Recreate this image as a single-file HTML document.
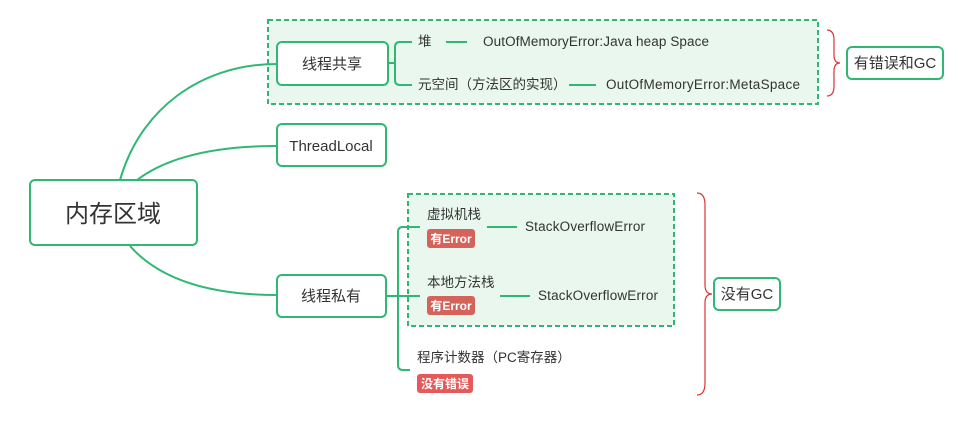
<!DOCTYPE html>
<html><head><meta charset="utf-8"><style>
body{margin:0;background:#fff;}
text{font-family:"Liberation Sans","Noto Sans CJK SC",sans-serif;fill:#333;}
</style></head><body>
<svg width="972" height="425" viewBox="0 0 972 425" xmlns="http://www.w3.org/2000/svg">
<g fill="none" stroke="#2fb874" stroke-width="2">
<rect x="268" y="20" width="550" height="84" fill="#e9f7ef" stroke-dasharray="5,3"/>
<rect x="408" y="194" width="266" height="132" fill="#e9f7ef" stroke-dasharray="5,3"/>
<path d="M120,180 C140,110 200,64 277,64"/>
<path d="M137,180 C170,155 220,146 277,146"/>
<path d="M130,246 C160,280 210,295 277,295"/>
<path d="M388,63 H395 M412,42 H400 Q395,42 395,47 V80 Q395,85 400,85 H412"/>
<path d="M446,42 H467 M569,85 H596"/>
<path d="M386,296 H420 M420,227 H403 Q398,227 398,232 V365 Q398,370 403,370 H410"/>
<path d="M487,227 H517 M500,296 H530"/>
</g>
<g fill="#fff" stroke="#2fb874" stroke-width="2">
<rect x="30" y="180" width="167" height="65" rx="5"/>
<rect x="277" y="42" width="111" height="43" rx="5"/>
<rect x="277" y="124" width="109" height="42" rx="5"/>
<rect x="277" y="275" width="109" height="42" rx="5"/>
<rect x="847" y="47" width="96" height="32" rx="5"/>
<rect x="714" y="278" width="66" height="32" rx="5"/>
</g>
<g fill="none" stroke="#d33" stroke-width="1.2">
<path d="M827,30 Q834,30 834,40 V55 Q834,63 840,63 Q834,63 834,71 V86 Q834,96 827,96"/>
<path d="M697,193 Q705,193 705,205 V285 Q705,294 712,294 Q705,294 705,303 V383 Q705,395 697,395"/>
</g>
<text x="113" y="222" font-size="24" text-anchor="middle">内存区域</text>
<text x="332" y="69" font-size="15" text-anchor="middle">线程共享</text>
<text x="331" y="151" font-size="15" text-anchor="middle">ThreadLocal</text>
<text x="331" y="301" font-size="15" text-anchor="middle">线程私有</text>
<text x="895" y="68" font-size="15" text-anchor="middle">有错误和GC</text>
<text x="747" y="299" font-size="15" text-anchor="middle">没有GC</text>
<g font-size="13.5">
<text x="418" y="46">堆</text>
<text x="483" y="46" textLength="226">OutOfMemoryError:Java heap Space</text>
<text x="418" y="89">元空间（方法区的实现）</text>
<text x="606" y="89" textLength="194">OutOfMemoryError:MetaSpace</text>
<text x="427" y="219">虚拟机栈</text>
<text x="525" y="231" textLength="120">StackOverflowError</text>
<text x="427" y="287">本地方法栈</text>
<text x="538" y="300" textLength="120">StackOverflowError</text>
<text x="417" y="362">程序计数器（PC寄存器）</text>
</g>
<rect x="427" y="229" width="48" height="19" rx="3" fill="#d4635c"/>
<rect x="427" y="296" width="48" height="19" rx="3" fill="#d4635c"/>
<rect x="417" y="374" width="56" height="19" rx="3" fill="#e45a5a"/>
<g font-size="12" font-weight="bold">
<text x="451" y="243" text-anchor="middle" style="fill:#fff">有Error</text>
<text x="451" y="310" text-anchor="middle" style="fill:#fff">有Error</text>
<text x="445" y="388" text-anchor="middle" style="fill:#fff">没有错误</text>
</g>
</svg>
</body></html>
